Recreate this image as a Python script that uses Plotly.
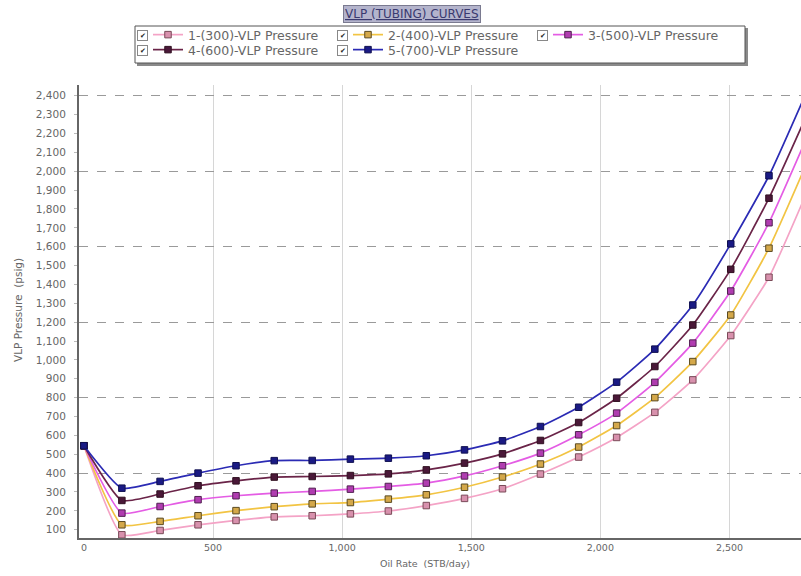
import plotly.graph_objects as go

# ---- data ----
oil_rate = [0, 147, 295, 442, 589, 737, 884, 1032, 1179, 1326, 1474, 1621,
            1768, 1916, 2063, 2211, 2358, 2505, 2653, 2800]
vlp_300 = [545, 73, 96, 126, 149, 168, 174, 184, 199, 228, 266, 317,
           395, 485, 589, 722, 894, 1129, 1438, 1890]
vlp_400 = [545, 126, 144, 174, 201, 222, 237, 244, 262, 285, 325, 379,
           448, 538, 652, 800, 991, 1238, 1592, 2045]
vlp_500 = [545, 188, 223, 259, 280, 294, 303, 315, 329, 347, 385, 439,
           506, 603, 718, 881, 1089, 1365, 1727, 2180]
vlp_600 = [545, 255, 289, 333, 359, 379, 382, 387, 396, 417, 453, 502,
           573, 668, 797, 965, 1185, 1480, 1857, 2300]
vlp_700 = [545, 320, 356, 400, 439, 466, 467, 474, 479, 492, 523, 571,
           647, 749, 882, 1057, 1291, 1615, 1976, 2425]
series_names = ["1-(300)-VLP Pressure", "2-(400)-VLP Pressure", "3-(500)-VLP Pressure",
                "4-(600)-VLP Pressure", "5-(700)-VLP Pressure"]
x_ticks = [0, 500, 1000, 1500, 2000, 2500]
y_ticks = list(range(100, 2500, 100))
y_grid = [400, 800, 1200, 1600, 2000, 2400]
x_grid = [500, 1000, 1500, 2000, 2500]

# ---- styles ----
line_colors = ["#f4a3c6", "#f2c443", "#e45ce4", "#6a2448", "#2b2bb4"]
marker_fill = ["#d891ad", "#d4a84a", "#b03cb0", "#4a1838", "#1a1a84"]
marker_edge = ["#7a4a58", "#5a4a20", "#502050", "#301020", "#101050"]

W, H = 801, 576
ML, MR, MT, MB = 79, 0, 85, 38
PW = W - ML - MR
PH = H - MT - MB

def px(xp):
    return (xp - ML) / PW

def py(yp):
    return (H - MB - yp) / PH

fig = go.Figure()
all_series = [vlp_300, vlp_400, vlp_500, vlp_600, vlp_700]
for i, (name, vals) in enumerate(zip(series_names, all_series)):
    fig.add_trace(go.Scatter(
        x=oil_rate, y=vals, name=name, mode="lines+markers",
        line=dict(color=line_colors[i], width=1.7, shape="spline", smoothing=0.5),
        marker=dict(symbol="square", size=6.5, color=marker_fill[i],
                    line=dict(color=marker_edge[i], width=1)),
        legend="legend" if i < 3 else "legend2",
    ))

# dummy trace for grid overlay axes
fig.add_trace(go.Scatter(x=[None], y=[None], xaxis="x2", yaxis="y2",
                         showlegend=False, hoverinfo="skip"))

xr = [-19, 2777]
yr = [56, 2457]
xfont = dict(family="DejaVu Sans", size=9.5, color="#666666")
yfont = dict(family="DejaVu Sans", size=10.5, color="#666666")
lfont = dict(family="DejaVu Sans", size=12.5, color="#666666")

fig.update_layout(
    width=W, height=H,
    margin=dict(l=ML, r=MR, t=MT, b=MB),
    paper_bgcolor="white", plot_bgcolor="white",
    xaxis=dict(range=xr, tickvals=x_ticks, tickformat=",d", showgrid=False,
               zeroline=False, showline=True, linecolor="#666666", linewidth=2,
               ticks="", tickfont=xfont),
    yaxis=dict(range=yr, tickvals=y_ticks, tickformat=",d", showgrid=False,
               zeroline=False, showline=True, linecolor="#666666", linewidth=2,
               ticks="outside", ticklen=3, tickcolor="#bbbbbb", tickfont=yfont,
               ticklabelstandoff=6),
    xaxis2=dict(range=xr, overlaying="x", tickvals=x_grid, showgrid=True,
                gridcolor="#d6d6d6", gridwidth=1, showticklabels=False,
                zeroline=False, showline=False),
    yaxis2=dict(range=yr, overlaying="y", tickvals=y_grid, showgrid=True,
                gridcolor="#9a9a9a", gridwidth=1, griddash="dash",
                showticklabels=False, zeroline=False, showline=False),
    legend=dict(orientation="h", x=px(148), y=py(35), xanchor="left", yanchor="middle",
                entrywidth=155, bgcolor="rgba(0,0,0,0)", borderwidth=0,
                font=lfont, itemclick=False, itemdoubleclick=False),
    legend2=dict(orientation="h", x=px(148), y=py(50), xanchor="left", yanchor="middle",
                 entrywidth=155, bgcolor="rgba(0,0,0,0)", borderwidth=0,
                 font=lfont, itemclick=False, itemdoubleclick=False),
    showlegend=True,
)

# legend frame with shadow
fig.add_shape(type="rect", xref="paper", yref="paper",
              x0=px(137), x1=px(748), y0=py(66), y1=py(28),
              fillcolor="#8a8a8a", line=dict(width=0), layer="above")
fig.add_shape(type="rect", xref="paper", yref="paper",
              x0=px(135), x1=px(745), y0=py(63), y1=py(26),
              fillcolor="white", line=dict(color="#555555", width=1), layer="above")

# checkboxes
for cx in [142, 342, 542]:
    for cy in [35, 50]:
        if cy == 50 and cx == 542:
            continue
        fig.add_annotation(x=px(cx), y=py(cy), xref="paper", yref="paper",
                           xanchor="center", yanchor="middle",
                           text="✔", showarrow=False, font=dict(size=7, color="#222222"),
                           bordercolor="#888888", borderwidth=1, borderpad=0,
                           bgcolor="white", width=9, height=9)

# title
fig.add_annotation(x=px(412), y=py(14), xref="paper", yref="paper",
                   xanchor="center", yanchor="middle",
                   text="<u>VLP (TUBING) CURVES</u>", showarrow=False,
                   font=dict(family="DejaVu Sans", size=12, color="#3a3a70"),
                   bgcolor="#b4b4cc", bordercolor="#7a7a90", borderwidth=1, borderpad=1)

# axis titles
fig.add_annotation(x=px(425), y=py(563), xref="paper", yref="paper",
                   xanchor="center", yanchor="middle",
                   text="Oil Rate  (STB/day)", showarrow=False,
                   font=dict(family="DejaVu Sans", size=9.5, color="#666666"))
fig.add_annotation(x=px(18), y=py(310), xref="paper", yref="paper",
                   xanchor="center", yanchor="middle",
                   text="VLP Pressure  (psig)", showarrow=False, textangle=-90,
                   font=dict(family="DejaVu Sans", size=10.5, color="#666666"))

fig.write_html("out.html")
